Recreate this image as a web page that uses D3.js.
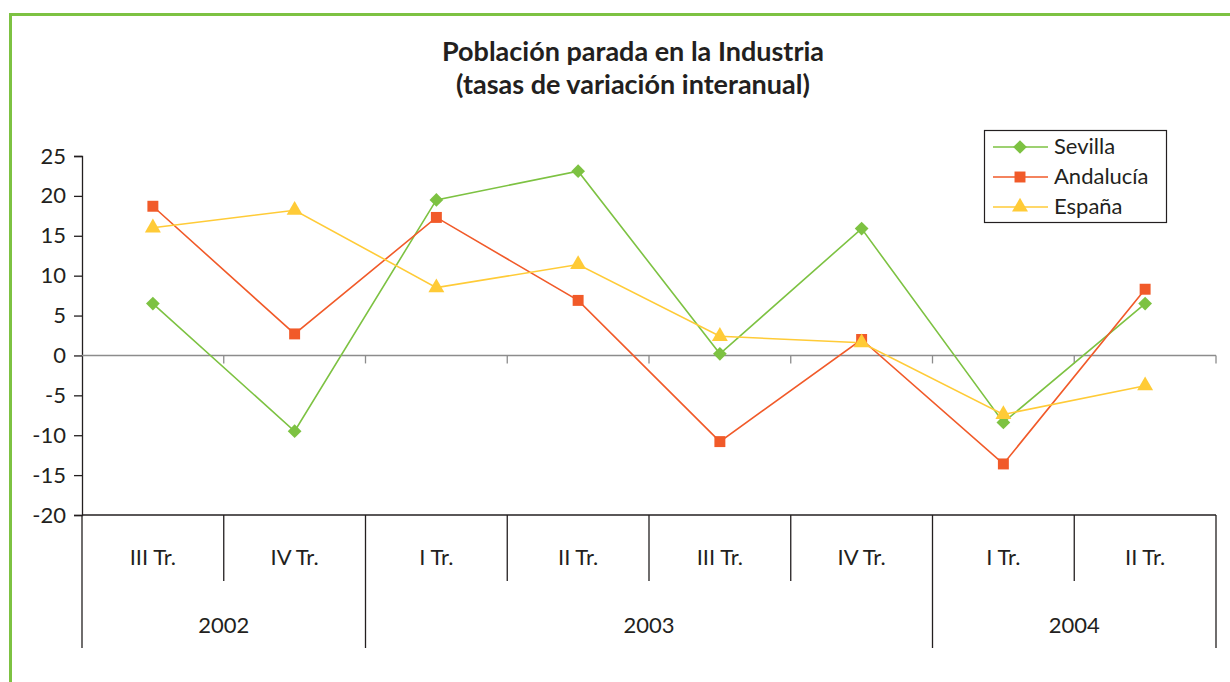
<!DOCTYPE html>
<html>
<head>
<meta charset="utf-8">
<script src="https://cdn.jsdelivr.net/npm/d3@7"></script>
<style>
  body { margin: 0; background: #fff; }
  text { font-family: Lato, "Open Sans", sans-serif; fill: #231f20; }
</style>
</head>
<body>
<div id="chart"></div>
<script>
// Data
var quarters = ["III Tr.", "IV Tr.", "I Tr.", "II Tr.", "III Tr.", "IV Tr.", "I Tr.", "II Tr."];
var years = [
  {label: "2002", from: 0, to: 2},
  {label: "2003", from: 2, to: 6},
  {label: "2004", from: 6, to: 8}
];
var sevilla   = [6.5, -9.5, 19.5, 23.1, 0.2, 15.9, -8.4, 6.5];
var andalucia = [18.7, 2.7, 17.3, 6.9, -10.8, 2.0, -13.6, 8.3];
var espana    = [16.0, 18.2, 8.5, 11.4, 2.4, 1.6, -7.4, -3.8];
var yTicks = [25, 20, 15, 10, 5, 0, -5, -10, -15, -20];

var series = [
  {name: "Sevilla", values: sevilla, color: "#7dc242", symbol: d3.symbolDiamond2},
  {name: "Andalucía", values: andalucia, color: "#f15a29", symbol: d3.symbolSquare},
  {name: "España", values: espana, color: "#ffcb37", symbol: d3.symbolTriangle}
];

var svgWidth = 1230;
var svgHeight = 682;

var svg = d3.select("#chart").append("svg")
    .attr("width", svgWidth)
    .attr("height", svgHeight);

// green frame
svg.append("path")
    .attr("d", "M10.5,682 L10.5,14.5 L1230,14.5")
    .attr("fill", "none")
    .attr("stroke", "#7dc242")
    .attr("stroke-width", 3);

// title
svg.append("text")
    .attr("x", 633).attr("y", 61)
    .attr("text-anchor", "middle")
    .style("font-size", "27px").style("font-weight", "bold")
    .text("Población parada en la Industria");
svg.append("text")
    .attr("x", 633).attr("y", 94)
    .attr("text-anchor", "middle")
    .style("font-size", "27px").style("font-weight", "bold")
    .text("(tasas de variación interanual)");

var plotLeft = 82, plotRight = 1216, plotTop = 156, plotBottom = 515;

var x = d3.scaleBand()
    .domain(d3.range(quarters.length))
    .range([plotLeft, plotRight]);

var y = d3.scaleLinear()
    .domain([-20, 25])
    .range([plotBottom, plotTop]);

// y axis
var yAxis = d3.axisLeft(y)
    .tickValues(yTicks)
    .tickFormat(d => String(d))
    .tickSize(8)
    .tickPadding(8);
var gy = svg.append("g")
    .attr("transform", `translate(${plotLeft},0)`)
    .call(yAxis);
gy.select(".domain").attr("stroke", "#231f20").attr("stroke-width", 1.3);
gy.selectAll(".tick line").attr("stroke", "#231f20").attr("stroke-width", 1.3);
gy.selectAll(".tick text")
    .attr("fill", "#231f20")
    .style("font-family", "Lato, sans-serif")
    .style("font-size", "22px");

// zero line with category ticks
svg.append("line")
    .attr("x1", plotLeft).attr("x2", plotRight)
    .attr("y1", y(0)).attr("y2", y(0))
    .attr("stroke", "#8c8c8c").attr("stroke-width", 1.5);
svg.selectAll(".zt")
    .data(d3.range(1, quarters.length + 1))
    .enter().append("line")
    .attr("x1", d => x(d - 1) + x.bandwidth()).attr("x2", d => x(d - 1) + x.bandwidth())
    .attr("y1", y(0)).attr("y2", y(0) + 8)
    .attr("stroke", "#8c8c8c").attr("stroke-width", 1.3);

// bottom category axis
svg.append("line")
    .attr("x1", plotLeft).attr("x2", plotRight)
    .attr("y1", plotBottom).attr("y2", plotBottom)
    .attr("stroke", "#231f20").attr("stroke-width", 1.3);

var yearEdges = [0].concat(years.map(d => d.to));
var quarterEdges = d3.range(1, quarters.length).filter(i => yearEdges.indexOf(i) < 0);
var edgeX = i => i < quarters.length ? x(i) : plotRight;

svg.selectAll(".qsep")
    .data(quarterEdges)
    .enter().append("line")
    .attr("x1", edgeX).attr("x2", edgeX)
    .attr("y1", plotBottom).attr("y2", 581)
    .attr("stroke", "#231f20").attr("stroke-width", 1.3);

svg.selectAll(".ysep")
    .data(yearEdges)
    .enter().append("line")
    .attr("x1", edgeX).attr("x2", edgeX)
    .attr("y1", plotBottom).attr("y2", 648)
    .attr("stroke", "#231f20").attr("stroke-width", 1.3);

svg.selectAll(".qlab")
    .data(quarters)
    .enter().append("text")
    .attr("x", (d, i) => x(i) + x.bandwidth() / 2)
    .attr("y", 565)
    .attr("text-anchor", "middle")
    .style("font-size", "22px")
    .text(d => d);

svg.selectAll(".ylab")
    .data(years)
    .enter().append("text")
    .attr("x", d => (edgeX(d.from) + edgeX(d.to)) / 2)
    .attr("y", 633)
    .attr("text-anchor", "middle")
    .style("font-size", "22px")
    .text(d => d.label);

// lines and markers
var line = d3.line()
    .x((d, i) => x(i) + x.bandwidth() / 2)
    .y(d => y(d));

series.forEach(function(s) {
  svg.append("path")
      .datum(s.values)
      .attr("d", line)
      .attr("fill", "none")
      .attr("stroke", s.color)
      .attr("stroke-width", 1.6);
});

series.forEach(function(s) {
  svg.selectAll(null)
      .data(s.values)
      .enter().append("path")
      .attr("d", d3.symbol().type(s.symbol).size(s.symbol === d3.symbolTriangle ? 110 : 120))
      .attr("transform", (d, i) => `translate(${x(i) + x.bandwidth() / 2},${y(d)})`)
      .attr("fill", s.color);
});

// legend
var legend = svg.append("g").attr("transform", "translate(984,130)");
legend.append("rect")
    .attr("x", 0.5).attr("y", 0.5)
    .attr("width", 182).attr("height", 92)
    .attr("fill", "#fff")
    .attr("stroke", "#231f20").attr("stroke-width", 1.2);

var items = legend.selectAll(".item")
    .data(series)
    .enter().append("g")
    .attr("transform", (d, i) => `translate(0,${17 + i * 30})`);
items.append("line")
    .attr("x1", 9).attr("x2", 64)
    .attr("stroke", d => d.color).attr("stroke-width", 1.6);
items.append("path")
    .attr("d", d => d3.symbol().type(d.symbol).size(d.symbol === d3.symbolTriangle ? 110 : 120)())
    .attr("transform", "translate(36,0)")
    .attr("fill", d => d.color);
items.append("text")
    .attr("x", 70).attr("y", 7)
    .style("font-size", "22px")
    .text(d => d.name);
</script>
</body>
</html>
